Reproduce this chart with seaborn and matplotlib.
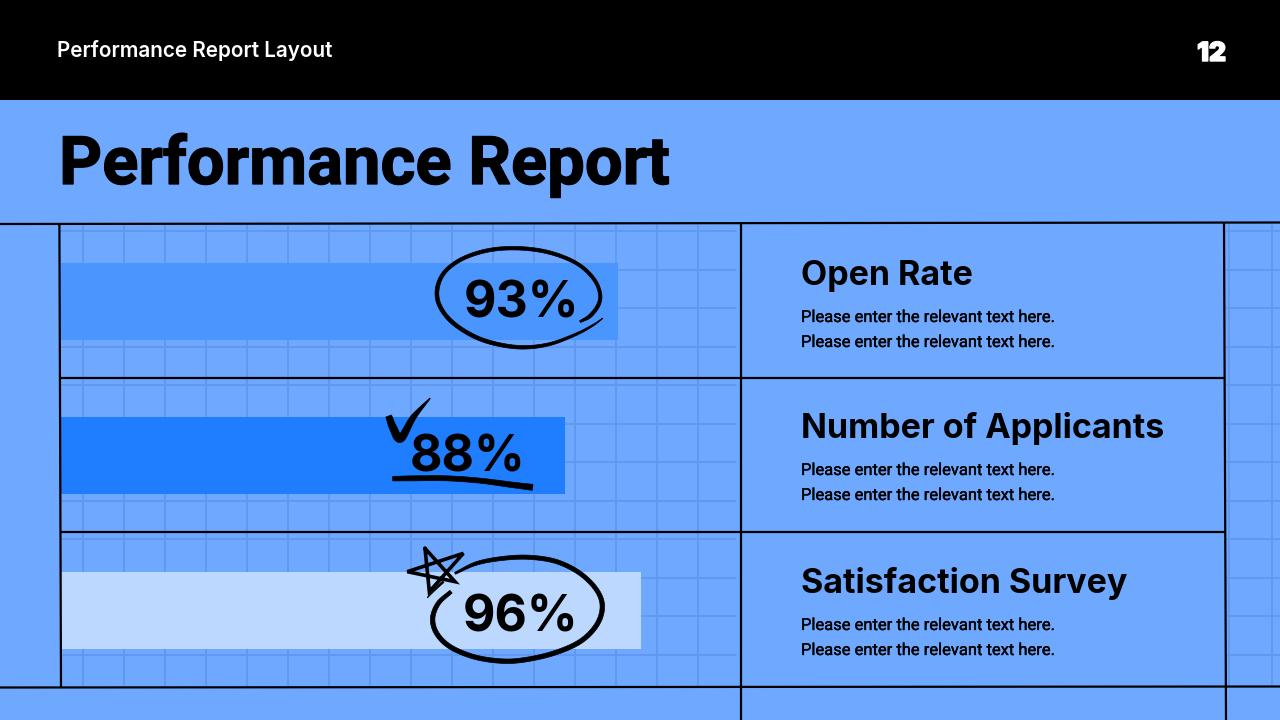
import matplotlib
matplotlib.use("Agg")
import numpy as np
import pandas as pd
import seaborn as sns
import matplotlib.pyplot as plt
import matplotlib.patheffects as pe
from matplotlib.patches import Polygon, Rectangle

SANS = ["Inter", "DejaVu Sans"]

# ---- data ----
header_text = "Performance Report Layout"
page_number = "12"
title_text = "Performance Report"
categories = ["Open Rate", "Number of Applicants", "Satisfaction Survey"]
bar_lengths = [92.8, 84.0, 96.7]
bar_labels = ["93%", "88%", "96%"]
bar_colors = ["#4b95ff", "#1f7dff", "#bcd8ff"]
body_line = "Please enter the relevant text here."

BG = "#6fa8ff"
GRID = "#5f98ee"
INK = "#000000"

sns.set_theme(style="white")
plt.rcParams["font.family"] = SANS

fig = plt.figure(figsize=(12.8, 7.2), dpi=100, facecolor=BG)

# pixel-space backdrop
bg = fig.add_axes([0, 0, 1, 1], zorder=0)
bg.set_xlim(0, 1280); bg.set_ylim(720, 0); bg.axis("off")
bg.add_patch(Rectangle((0, 0), 1280, 99.5, color="#000000", lw=0))
grid_x = [83 + 41 * i for i in range(16)]
grid_y = [231 + 38.5 * i for i in range(12)]
for gx in grid_x:
    bg.plot([gx, gx], [225, 686], color=GRID, lw=1.3)
for gy in grid_y:
    bg.plot([61, 736], [gy, gy], color=GRID, lw=1.3)
for gx in [1229, 1271.5]:
    bg.plot([gx, gx], [225, 686], color=GRID, lw=1.3)
for gy in grid_y:
    bg.plot([1227, 1280], [gy, gy], color=GRID, lw=1.3)

# bars through seaborn on a 0-100 scale
ax = fig.add_axes([61 / 1280, 1 - 687.7 / 720, 600 / 1280, 464 / 720], zorder=1)
df = pd.DataFrame({"category": categories, "length": bar_lengths})
sns.barplot(data=df, x="length", y="category", hue="category", palette=bar_colors,
            width=0.498, legend=False, ax=ax, saturation=1, linewidth=0)
ax.set_xlim(0, 100); ax.set_ylim(2.5, -0.5)
ax.axis("off"); ax.patch.set_alpha(0)

# overlay in pixels
ov = fig.add_axes([0, 0, 1, 1], zorder=2)
ov.set_xlim(0, 1280); ov.set_ylim(720, 0); ov.axis("off"); ov.patch.set_alpha(0)


def ln(xs, ys, lw=1.6):
    ov.plot(xs, ys, color=INK, lw=lw, solid_capstyle="butt")


def brush(pts, widths, ox, oy):
    """Hand-drawn stroke: smooth the key points and fill a tapered outline."""
    p = np.array(pts, float) / 3 + [ox, oy]
    w = np.array(widths, float)
    P = np.vstack([2 * p[0] - p[1], p, 2 * p[-1] - p[-2]])
    out, wid = [], []
    for i in range(1, len(P) - 2):
        for t in np.linspace(0, 1, 12, endpoint=False):
            a = 2 * P[i] + (P[i + 1] - P[i - 1]) * t
            b = (2 * P[i - 1] - 5 * P[i] + 4 * P[i + 1] - P[i + 2]) * t ** 2
            c = (3 * P[i] - P[i - 1] - 3 * P[i + 1] + P[i + 2]) * t ** 3
            out.append(0.5 * (a + b + c))
            wid.append(w[i - 1] + (w[i] - w[i - 1]) * t)
    out.append(p[-1]); wid.append(w[-1])
    out = np.array(out); wid = np.array(wid)
    d = np.gradient(out, axis=0)
    n = np.c_[-d[:, 1], d[:, 0]] / np.maximum(np.hypot(d[:, 0], d[:, 1]), 1e-6)[:, None]
    poly = np.vstack([out + n * wid[:, None] / 2, (out - n * wid[:, None] / 2)[::-1]])
    ov.add_patch(Polygon(poly, closed=True, fc=INK, ec=INK, lw=0.5, joinstyle="round"))


ln([0, 1280], [224, 222.5])
ln([60, 1225], [378, 378])
ln([60, 1225], [532, 532])
ln([0, 1280], [687.5, 686.5])
ln([59.4, 61], [224, 687])
ln([741, 741], [223, 720])
ln([1224, 1226], [223, 720])

ov.text(57, 57, header_text, color="white", fontsize=14.9, fontweight="semibold", va="baseline", ha="left")
ov.text(1211.5, 61, page_number, color="white", fontsize=19, fontweight="black", va="baseline", ha="center",
        path_effects=[pe.withStroke(linewidth=1.0, foreground="white")])
ov.text(59, 184, title_text, color=INK, fontsize=48.2, fontweight="bold", va="baseline", ha="left",
        family=["Roboto", "DejaVu Sans"],
        path_effects=[pe.withStroke(linewidth=0.9, foreground=INK)])

heading_base = [285, 438, 593]
for cat, hy in zip(categories, heading_base):
    ov.text(801, hy, cat, color=INK, fontsize=24.5, fontweight="bold", va="baseline", ha="left")
    for offset in (37, 62):
        ov.text(801, hy + offset, body_line, color=INK, fontsize=11.9, va="baseline", ha="left",
                family=["Roboto", "DejaVu Sans"], fontweight="normal",
                path_effects=[pe.withStroke(linewidth=0.25, foreground=INK)])

label_xy = [(522, 317), (468, 472), (521, 632)]
for lab, (lx, ly) in zip(bar_labels, label_xy):
    ov.text(lx, ly, lab, color=INK, fontsize=36, fontweight="bold", va="baseline", ha="center")

# --- hand-drawn annotations (crop coordinates, origin ox/oy, 3x scale) ---
brush([(600, 275), (630, 258), (655, 225), (660, 190), (640, 145), (590, 100), (510, 68), (420, 55),
       (330, 60), (250, 85), (195, 125), (172, 175), (178, 225), (215, 275), (280, 318), (350, 342),
       (430, 352), (510, 342), (590, 312), (640, 285), (668, 265)],
      [2, 3.5, 3.5, 3.2, 3.2, 3.2, 3.5, 3.5, 3.5, 3.5, 3.5, 3.8, 3.8, 3.8, 3.8, 3.8, 3.5, 3, 2.4, 1.6, 0.6], 380, 230)
brush([(26, 558), (40, 595), (62, 625), (100, 562), (150, 505)],
      [6, 7.5, 8, 5.5, 0.8], 380, 230)
brush([(38, 746), (100, 745), (200, 745), (300, 752), (400, 765), (458, 772)],
      [4.5, 5, 5, 5, 5.5, 6], 380, 230)
brush([(195, 130), (260, 100), (340, 85), (420, 82), (500, 95), (570, 130), (620, 180), (637, 230),
       (620, 285), (570, 335), (490, 370), (400, 390), (330, 393), (250, 380), (180, 350), (140, 310),
       (128, 265), (145, 220), (183, 185)],
      [2, 3.5, 4, 4.2, 4.2, 4.2, 4.2, 4.5, 4.5, 4.5, 4.5, 4.5, 4.5, 4.5, 4.5, 4.5, 4.5, 4.2, 3.5], 390, 530)
star_x = np.array([105, 118, 220, 52, 195, 105]) / 3 + 390
star_y = np.array([55, 185, 70, 125, 155, 55]) / 3 + 530
ov.plot(star_x, star_y, color=INK, lw=2.6, solid_joinstyle="miter")
brush([(112, 203), (135, 178), (160, 155)], [0.5, 1.8, 2], 390, 530)

fig.savefig("out.png", dpi=100, facecolor=BG)
